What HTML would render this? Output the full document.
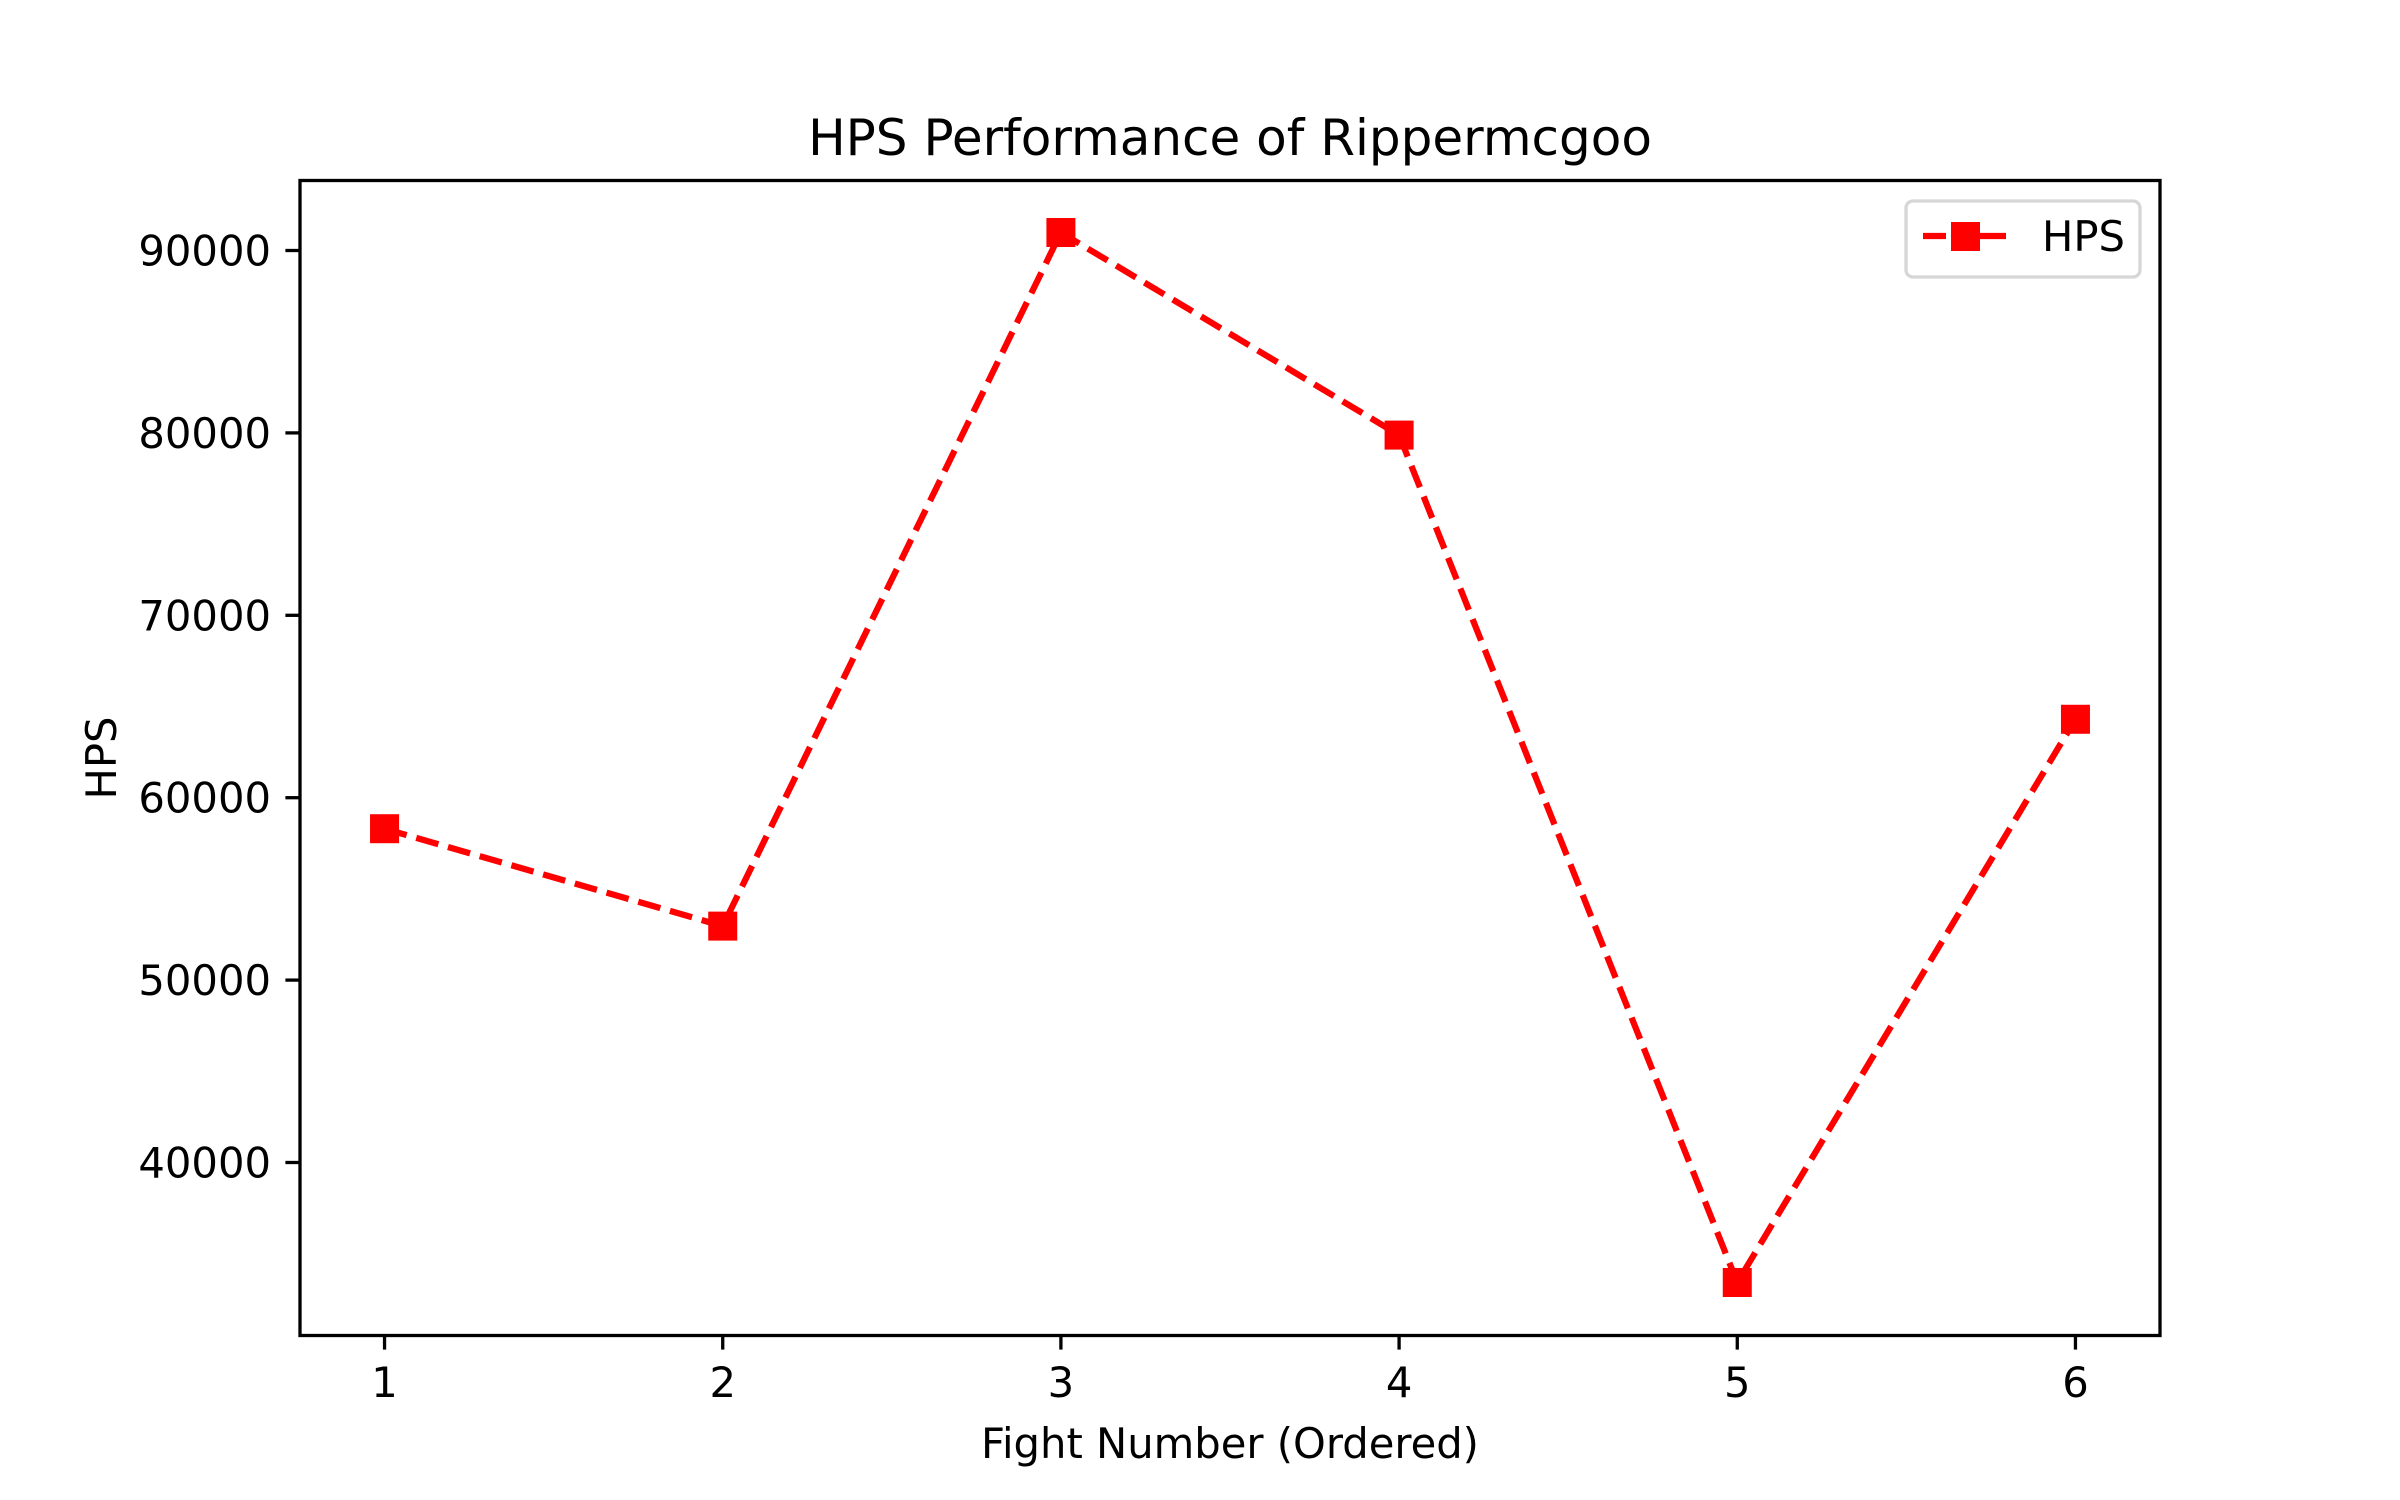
<!DOCTYPE html>
<html><head><meta charset="utf-8"><style>
html,body{margin:0;padding:0;background:#fff;}
svg{display:block;font-family:"DejaVu Sans","Liberation Sans",sans-serif;}
</style></head><body>
<svg id="chart" width="2400" height="1500" xmlns="http://www.w3.org/2000/svg">
<rect width="2400" height="1500" fill="#fff"/>
<text x="1230" y="155" font-size="50" text-anchor="middle">HPS Performance of Rippermcgoo</text>
<g id="ticks"></g>
<g id="series"></g>
<rect x="300" y="180.5" width="1860" height="1155" fill="none" stroke="#000" stroke-width="3.3"/>
<text x="1230" y="1458" font-size="41.7" text-anchor="middle">Fight Number (Ordered)</text>
<text transform="translate(116,758) rotate(-90)" font-size="41.7" text-anchor="middle">HPS</text>
<g>
<rect x="1906" y="201" width="234" height="76" rx="7" fill="#fff" stroke="#d6d6d6" stroke-width="3.3"/>
<line x1="1923" y1="236" x2="2006" y2="236" stroke="red" stroke-width="6.25" stroke-dasharray="23,10,60"/>
<rect x="1951" y="222" width="29" height="29" fill="red"/>
<text x="2042" y="251" font-size="41.7">HPS</text>
</g>
</svg>
<script>
const categories=[1,2,3,4,5,6];
const hpsValues=[58300,52960,90987,79880,33421,64300];
const xTicks=[1,2,3,4,5,6];
const yTicks=[40000,50000,60000,70000,80000,90000];
const NS='http://www.w3.org/2000/svg';
const L=300,R=2160,T=180,B=1335;
const xmin=Math.min(...categories),xmax=Math.max(...categories);
const xm=(xmax-xmin)*0.05;
const ymin0=Math.min(...hpsValues),ymax0=Math.max(...hpsValues);
const ym=(ymax0-ymin0)*0.05;
const x=v=>L+(v-(xmin-xm))/((xmax+xm)-(xmin-xm))*(R-L);
const y=v=>B-(v-(ymin0-ym))/((ymax0+ym)-(ymin0-ym))*(B-T);
function mk(tag,attrs,parent){const e=document.createElementNS(NS,tag);for(const k in attrs)e.setAttribute(k,attrs[k]);parent.appendChild(e);return e;}
const tg=document.getElementById('ticks');
xTicks.forEach(t=>{
 const l=mk('line',{x1:x(t),x2:x(t),y1:B,y2:B+14.6,stroke:'#000','stroke-width':3.3},tg);
 
 
 const s=mk('text',{x:x(t),y:B+62,'font-size':41.7,'text-anchor':'middle'},tg);
 s.textContent=t;
 
 
});
yTicks.forEach(t=>{
 const l=mk('line',{x1:L-14.6,x2:L,y1:y(t),y2:y(t),stroke:'#000','stroke-width':3.3},tg);
 
 
 const s=mk('text',{x:L-29,y:y(t)+15,'font-size':41.7,'text-anchor':'end'},tg);
 s.textContent=t;
 
 
});
const sg=document.getElementById('series');
const pts=categories.map((c,i)=>x(c)+','+y(hpsValues[i])).join(' ');
const pl=mk('polyline',{points:pts,fill:'none',stroke:'red','stroke-width':6.25,'stroke-dasharray':'23,10'},sg);


categories.forEach((c,i)=>{
 const r=mk('rect',{x:x(c)-14.5,y:y(hpsValues[i])-14.5,width:29,height:29,fill:'red'},sg);
 
 
});
</script>
</body></html>
